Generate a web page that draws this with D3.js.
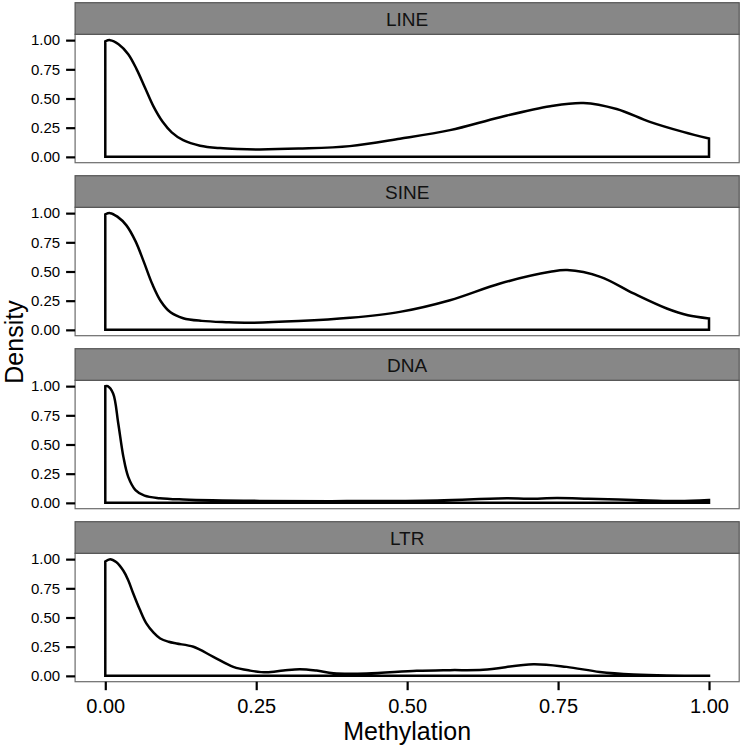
<!DOCTYPE html>
<html>
<head>
<meta charset="utf-8">
<script src="https://cdn.jsdelivr.net/npm/d3@7"></script>
<style>
  html, body { margin: 0; padding: 0; background: #fff; }
  svg { display: block; font-family: "Liberation Sans", Arial, Helvetica, sans-serif; }
</style>
</head>
<body>
<svg id="chart" width="742" height="748"></svg>
<script>
// ---- data (scaled density vs methylation) ----
const categories = ["LINE", "SINE", "DNA", "LTR"];

const lineDensity = [
  [0,0.99],[0.008,1.0],[0.022,0.965],[0.038,0.88],[0.052,0.75],[0.066,0.59],[0.08,0.43],
  [0.095,0.3],[0.11,0.21],[0.129,0.143],[0.157,0.096],[0.19,0.075],[0.22,0.067],[0.256,0.064],
  [0.32,0.071],[0.405,0.092],[0.488,0.155],[0.571,0.229],[0.654,0.34],[0.737,0.434],
  [0.792,0.462],[0.847,0.41],[0.902,0.3],[0.957,0.214],[1.0,0.157]
];
const sineDensity = [
  [0,0.99],[0.008,1.0],[0.02,0.97],[0.035,0.895],[0.05,0.76],[0.064,0.58],[0.078,0.39],
  [0.092,0.245],[0.108,0.15],[0.129,0.1],[0.16,0.077],[0.2,0.066],[0.24,0.061],[0.32,0.075],
  [0.405,0.103],[0.488,0.154],[0.571,0.254],[0.654,0.397],[0.737,0.497],[0.765,0.512],
  [0.82,0.454],[0.875,0.312],[0.93,0.183],[0.965,0.125],[1.0,0.098]
];
const dnaDensity = [
  [0,1.0],[0.004,1.0],[0.013,0.937],[0.0215,0.68],[0.03,0.394],[0.038,0.223],[0.05,0.11],
  [0.065,0.062],[0.09,0.04],[0.129,0.029],[0.256,0.017],[0.4,0.015],[0.55,0.02],[0.665,0.04],
  [0.7,0.035],[0.748,0.042],[0.8,0.036],[0.9,0.02],[0.95,0.015],[1.0,0.025]
];
const ltrDensity = [
  [0,0.98],[0.008,1.0],[0.018,0.975],[0.03,0.9],[0.038,0.82],[0.046,0.71],[0.057,0.57],
  [0.068,0.449],[0.08,0.37],[0.091,0.32],[0.105,0.292],[0.118,0.277],
  [0.146,0.249],[0.179,0.163],[0.212,0.077],[0.24,0.045],[0.267,0.03],[0.295,0.045],
  [0.322,0.057],[0.35,0.045],[0.378,0.022],[0.433,0.02],[0.516,0.043],[0.571,0.049],
  [0.626,0.052],[0.709,0.10],[0.764,0.077],[0.819,0.034],[0.875,0.012],[0.93,0.003],[1.0,0.002]
];
const seriesValues = [lineDensity, sineDensity, dnaDensity, ltrDensity];

const xTicks = [0, 0.25, 0.5, 0.75, 1.0];
const yTicks = [0, 0.25, 0.5, 0.75, 1.0];
const xTickLabels = ["0.00", "0.25", "0.50", "0.75", "1.00"];
const yTickLabels = ["0.00", "0.25", "0.50", "0.75", "1.00"];
const xTitle = "Methylation";
const yTitle = "Density";

// ---- layout ----
const svg = d3.select("#chart");
const left = 75.1, right = 739.2;
const top0 = 2.7, period = 173, stripH = 31.6, panelH = 128.4;

const x = d3.scaleLinear().domain([-0.05, 1.05]).range([left, right]);

categories.forEach((cat, i) => {
  const stripTop = top0 + i * period;
  const pTop = stripTop + stripH;
  const y = d3.scaleLinear().domain([-0.05, 1.05]).range([pTop + panelH, pTop]);
  const g = svg.append("g");

  // panel background + border
  g.append("rect")
    .attr("x", left).attr("y", pTop)
    .attr("width", right - left).attr("height", panelH)
    .attr("fill", "#fff").attr("stroke", "#6b6b6b").attr("stroke-width", 1.2);

  // strip
  g.append("rect")
    .attr("x", left).attr("y", stripTop)
    .attr("width", right - left).attr("height", stripH)
    .attr("fill", "#878787").attr("stroke", "#555").attr("stroke-width", 1.2);
  g.append("text")
    .attr("x", (left + right) / 2).attr("y", stripTop + stripH / 2)
    .attr("dy", "0.38em")
    .attr("text-anchor", "middle")
    .attr("font-size", 19).attr("fill", "#111")
    .text(cat);

  // density outline
  const area = d3.area()
    .x(d => x(d[0]))
    .y0(y(0))
    .y1(d => y(d[1]))
    .curve(d3.curveCatmullRom.alpha(0.5));
  g.append("path")
    .datum(seriesValues[i])
    .attr("d", area)
    .attr("fill", "none")
    .attr("stroke", "#000")
    .attr("stroke-width", 2.5)
    .attr("stroke-linejoin", "miter");

  // y axis
  const yAxis = d3.axisLeft(y)
    .tickValues(yTicks)
    .tickFormat((d, k) => yTickLabels[k])
    .tickSize(9).tickPadding(6);
  const ya = g.append("g").attr("transform", `translate(${left},0)`).call(yAxis);
  ya.select(".domain").remove();
  ya.selectAll("line").attr("stroke", "#000").attr("stroke-width", 2.2);
  ya.selectAll("text").attr("font-size", 15).attr("fill", "#000")
    .attr("font-family", "Liberation Sans, Arial, sans-serif");

  // x axis on bottom panel only
  if (i === categories.length - 1) {
    const xAxis = d3.axisBottom(x)
      .tickValues(xTicks)
      .tickFormat((d, k) => xTickLabels[k])
      .tickSize(8.5).tickPadding(8.6);
    const xa = g.append("g").attr("transform", `translate(0,${pTop + panelH})`).call(xAxis);
    xa.select(".domain").remove();
    xa.selectAll("line").attr("stroke", "#000").attr("stroke-width", 2.2);
    xa.selectAll("text").attr("font-size", 20).attr("fill", "#000")
      .attr("font-family", "Liberation Sans, Arial, sans-serif");
  }
});

// axis titles
svg.append("text")
  .attr("x", (left + right) / 2).attr("y", 740)
  .attr("text-anchor", "middle")
  .attr("font-size", 25).attr("fill", "#000")
  .text(xTitle);

svg.append("text")
  .attr("transform", `translate(23,342) rotate(-90)`)
  .attr("text-anchor", "middle")
  .attr("font-size", 25).attr("fill", "#000")
  .text(yTitle);
</script>
</body>
</html>
